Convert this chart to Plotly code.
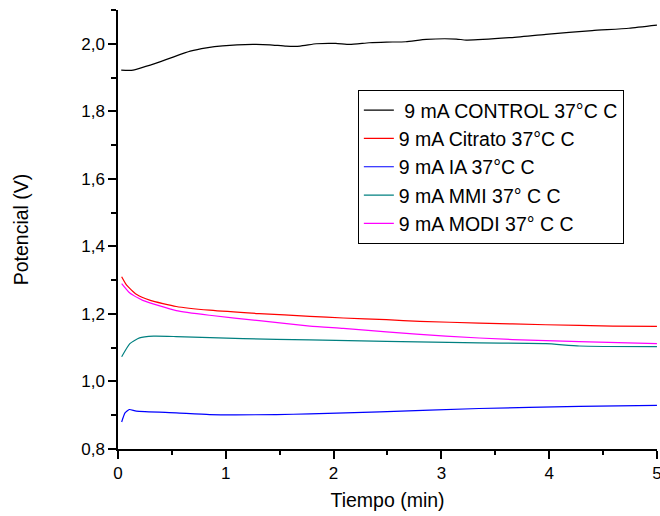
import plotly.graph_objects as go

# Tiempo (min) / Potencial (V)
control_x = [0.03, 0.14, 0.42, 0.67, 0.82, 0.97, 1.25, 1.41, 1.56, 1.69, 1.84, 2.02, 2.15, 2.33, 2.49,
             2.67, 2.86, 3.14, 3.23, 3.63, 3.97, 4.40, 4.74, 5.0]
control_y = [1.922, 1.922, 1.950, 1.978, 1.988, 1.994, 1.998, 1.997, 1.993, 1.993, 2.000, 2.001, 1.998, 2.003, 2.005,
             2.006, 2.013, 2.014, 2.011, 2.018, 2.028, 2.039, 2.046, 2.055]

citrato_x = [0.034, 0.08, 0.17, 0.30, 0.54, 0.85, 1.31, 1.78, 2.09, 2.49, 2.80, 3.35, 3.97, 4.59, 5.0]
citrato_y = [1.310, 1.285, 1.258, 1.240, 1.222, 1.211, 1.201, 1.193, 1.188, 1.183, 1.178, 1.173, 1.168, 1.164, 1.163]

ia_x = [0.034, 0.065, 0.105, 0.17, 0.54, 0.85, 1.47, 1.78, 2.43, 3.35, 4.28, 5.0]
ia_y = [0.880, 0.907, 0.917, 0.912, 0.907, 0.902, 0.902, 0.904, 0.910, 0.920, 0.926, 0.929]

mmi_x = [0.034, 0.11, 0.20, 0.33, 0.54, 1.16, 1.78, 2.49, 3.35, 3.97, 4.28, 5.0]
mmi_y = [1.073, 1.112, 1.129, 1.134, 1.133, 1.127, 1.123, 1.119, 1.114, 1.112, 1.105, 1.103]

modi_x = [0.034, 0.11, 0.23, 0.54, 0.85, 1.31, 1.78, 2.09, 2.49, 3.04, 3.66, 4.28, 5.0]
modi_y = [1.290, 1.262, 1.240, 1.210, 1.196, 1.180, 1.164, 1.157, 1.147, 1.134, 1.124, 1.118, 1.112]

names = ["\u00a09 mA CONTROL 37°C C", "9 mA Citrato 37°C C", "9 mA IA 37°C C",
         "9 mA MMI 37° C C", "9 mA MODI 37° C C"]
colors = ["#000000", "#FF0000", "#0000FF", "#008080", "#FF00FF"]

series = [(control_x, control_y), (citrato_x, citrato_y), (ia_x, ia_y), (mmi_x, mmi_y), (modi_x, modi_y)]

fig = go.Figure()
for (xs, ys), n, c in zip(series, names, colors):
    fig.add_trace(go.Scatter(x=xs, y=ys, mode="lines", name=n,
                             line=dict(color=c, width=1.2, shape="spline", smoothing=0.5)))

font = "Liberation Sans, Arial, sans-serif"
axis_common = dict(
    showline=True, linecolor="black", linewidth=1.5,
    ticks="outside", ticklen=8, tickwidth=1.5, tickcolor="black",
    showgrid=False, zeroline=False, mirror=False,
    tickfont=dict(family=font, size=17, color="black"),
    ticklabeloverflow="allow", automargin=False,
)

fig.update_layout(
    width=660, height=516,
    margin=dict(l=118, r=3, t=10, b=67),
    paper_bgcolor="white", plot_bgcolor="white",
    separators=",.",
    showlegend=True,
    legend=dict(x=0.445, y=0.818, xanchor="left", yanchor="top",
                bordercolor="black", borderwidth=1, bgcolor="white",
                font=dict(family=font, size=19.5, color="black"),
                tracegroupgap=0),
    xaxis=dict(range=[0, 5.0005], dtick=1, tick0=0,
               minor=dict(dtick=0.5, ticks="outside", ticklen=4, tickwidth=1.5, tickcolor="black"),
               title=dict(text="Tiempo (min)", font=dict(family=font, size=19.5, color="black"), standoff=11),
               **axis_common),
    yaxis=dict(range=[0.8, 2.1], dtick=0.2, tick0=0.8, tickformat=".1f",
               minor=dict(dtick=0.1, ticks="outside", ticklen=5, tickwidth=1.5, tickcolor="black"),
               title=dict(text="Potencial (V)", font=dict(family=font, size=19.5, color="black"), standoff=47),
               **axis_common),
)

fig.write_html("out.html")
